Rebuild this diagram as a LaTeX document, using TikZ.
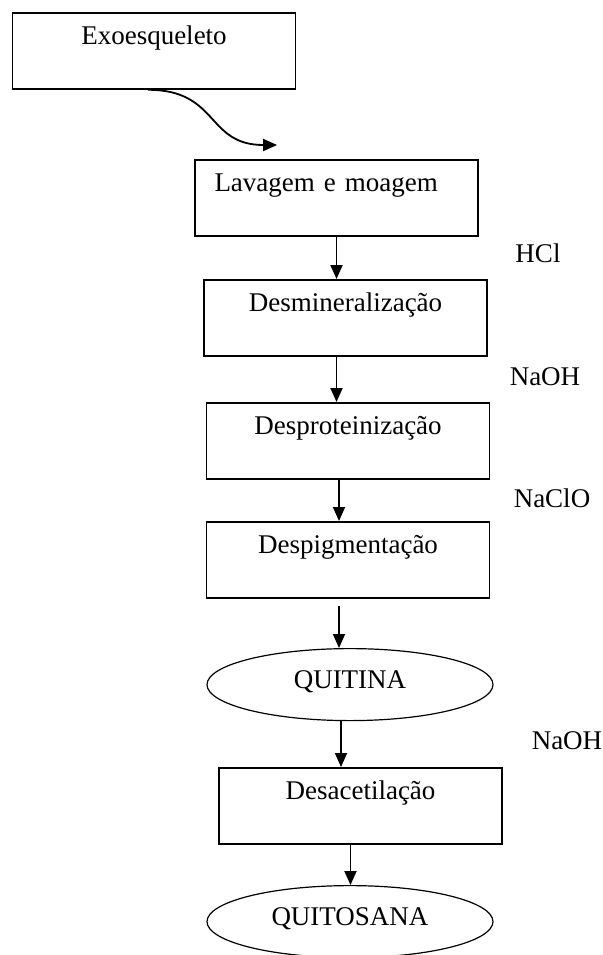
\documentclass[tikz,border=0pt]{standalone}
\usepackage{fontspec}
\setmainfont{Liberation Serif}
\usetikzlibrary{arrows.meta,shapes.geometric,positioning}

\begin{document}
\begin{tikzpicture}
	[x=0.5pt, y=-0.5pt,
		every node/.style={font=\fontsize{13.5}{16}\selectfont},
		block/.style={
		  rectangle,
		  draw=black,
		  line width=0.9pt,
		  minimum width=141.5pt,
		  inner ysep=6pt,
		  text height=10pt,
		  text depth=16pt,
		  anchor=north
		},
		product/.style={
		  ellipse,
		  draw=black,
		  line width=0.6pt,
		  minimum width=143pt,
		  minimum height=36pt,
		  text height=9pt,
		  text depth=5pt,
		  anchor=north
		},
		arr/.style={line width=0.9pt, -{Triangle[length=7pt,width=6pt]}}
	]
	\useasboundingbox (0,0) rectangle (602,955);

	\node[block] (exo) at (154,12) {Exoesqueleto};
	\node[block, text width=122pt, inner xsep=9.75pt, align=left] (lav) at (336.5,159) {Lavagem e moagem};
	\node[block] (desmin) at (345.5,279) {Desmineralização};
	\node[block] (desprot) at (348,402) {Desproteinização};
	\node[block] (despig) at (348,521) {Despigmentação};
	\node[product] (quitina) at (350,648) {QUITINA};
	\node[block] (desacet) at (360.5,767) {Desacetilação};
	\node[product] (quitosana) at (350,885) {QUITOSANA};

	% reagentes
	\node (hcl) at (538,253) {HCl};
	\node (naoh1) at (545,377) {NaOH};
	\node (naclo) at (552,498) {NaClO};
	\node (naoh2) at (567,741) {NaOH};

	\coordinate (tip) at ([xshift=41.5pt,yshift=7pt]lav.north west);
	\draw[arr] ([xshift=-3pt]exo.south) to[out=0,in=180,looseness=1.3] (tip);

	\draw[arr] (lav.south) -- (lav.south |- desmin.north);
	\draw[arr] ([xshift=-4.5pt]desmin.south) -- ([xshift=-4.5pt]desmin.south |- desprot.north);
	\draw[arr] ([xshift=-4.5pt]desprot.south) -- ([xshift=-4.5pt]desprot.south |- despig.north);
	\draw[arr] ([xshift=-4.5pt,yshift=-3.5pt]despig.south) -- ([xshift=-4.5pt]despig.south |- quitina.north);
	\draw[arr] ([xshift=-4.5pt]quitina.south) -- ([xshift=-4.5pt]quitina.south |- desacet.north);
	\draw[arr] ([xshift=-5pt]desacet.south) -- ([xshift=-5pt]desacet.south |- quitosana.north);
\end{tikzpicture}
\end{document}
